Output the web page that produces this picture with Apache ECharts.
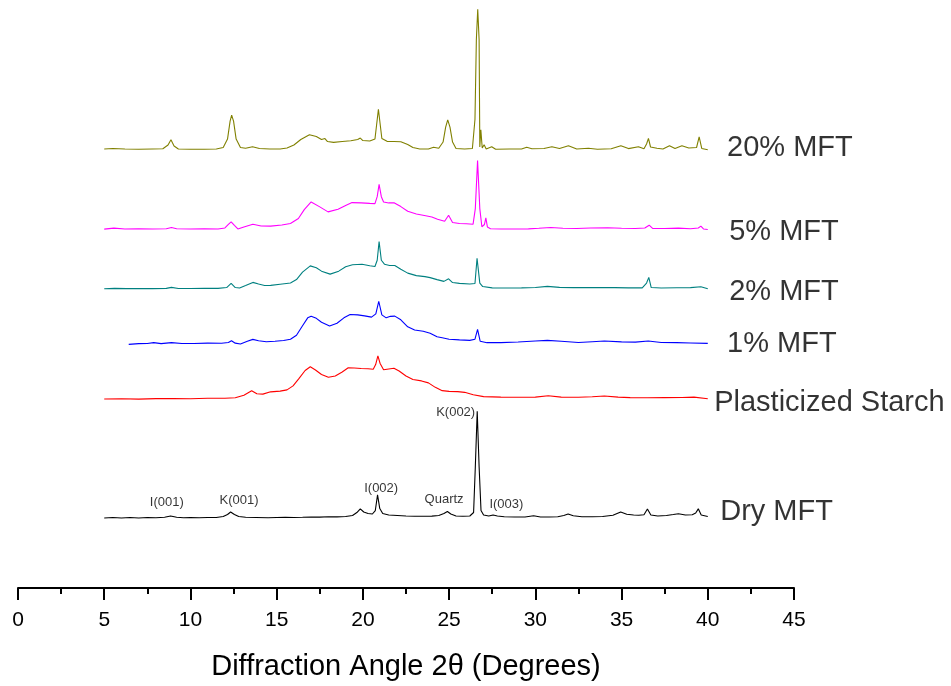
<!DOCTYPE html>
<html>
<head>
<meta charset="utf-8">
<script src="https://cdn.jsdelivr.net/npm/echarts@6/dist/echarts.min.js"></script>
<style>
  html, body { margin: 0; padding: 0; background: #ffffff; }
  #chart { width: 951px; height: 686px; }
</style>
</head>
<body>
<div id="chart"></div>
<script>
// XRD patterns, stacked with a vertical offset per sample.
// Each pattern: 2θ angles (degrees) and offset intensity (a.u.).

const dryAngle = [5.0,5.5,6.0,6.5,7.0,7.5,8.0,8.5,8.85,9.2,9.6,10.0,10.5,11.0,11.5,11.9,12.15,12.33,12.55,12.8,13.2,13.8,14.5,15.0,15.5,16.0,16.5,17.0,17.5,18.0,18.5,19.0,19.4,19.65,19.85,20.05,20.3,20.55,20.72,20.85,20.98,21.15,21.5,22.0,22.5,23.0,23.5,24.0,24.4,24.7,24.9,25.1,25.4,25.8,26.2,26.42,26.52,26.63,26.74,26.85,27.0,27.3,27.55,27.8,28.2,28.8,29.4,29.9,30.3,30.8,31.3,31.65,31.9,32.2,32.7,33.3,33.9,34.5,34.95,35.3,35.7,36.0,36.3,36.5,36.7,37.1,37.6,38.0,38.3,38.7,39.1,39.3,39.45,39.62,40.0];
const dryIntensity = [70.5,71,70.5,71,70.5,71,70.7,71.2,72.5,71.2,70.8,71,70.7,71,71,72,74,76.5,74,72,71.2,71,70.8,71,71.2,71,71.2,71.5,71.4,71.7,71.6,72,73,76,79.7,76.5,75,74.5,78,93.7,80,75,73.5,73,72.5,72.2,72.2,72.4,73,75,77,74.5,72.5,72.2,72.5,76,122,178,122,78,73.5,72.5,73.5,72.5,71.7,71.5,71.5,72.7,71.5,71.5,71.7,73,74.5,72.7,71.7,71.7,72,73.2,76.5,74.2,73.5,73.2,73.7,79.5,73.5,72.5,73,74,74.8,73.5,73.8,75.5,79.7,73.5,72];

const starchAngle = [5.0,6.0,7.0,8.0,9.0,10.0,11.0,12.0,12.6,13.1,13.55,13.85,14.2,14.65,15.2,15.6,15.95,16.3,16.65,16.95,17.25,17.6,18.0,18.4,18.8,19.15,19.5,19.9,20.3,20.6,20.74,20.87,21.0,21.2,21.5,21.8,22.1,22.5,22.9,23.4,23.8,24.2,24.6,25.0,25.5,25.9,26.4,27.0,28.0,29.0,30.0,30.75,31.5,32.5,33.3,34.0,34.8,35.5,36.5,37.5,38.5,39.2,40.0];
const starchIntensity = [190.3,190.5,190.2,190.7,190.8,190.5,191,191,191.5,194,198.5,195.5,195.2,197.5,198.2,199.5,203.5,211,219,222.7,219.5,215,212.2,213.5,217.5,221.7,221.5,221,220.8,220.2,225,233.7,226,219.7,220.5,221.3,218.5,213.5,210,208.5,206.5,202,198.7,198,197.7,197,194.5,192.7,192.2,192,192.2,193.5,192.2,192,192.5,193.3,192.2,191.7,191.5,191.7,191.8,192.2,190.5];

const mft1Angle = [6.42,7.0,7.5,7.87,8.3,8.9,9.5,10.2,11.0,11.8,12.2,12.38,12.6,12.9,13.3,13.62,13.95,14.4,14.9,15.4,15.8,16.15,16.5,16.8,17.0,17.3,17.6,18.07,18.5,18.9,19.26,19.7,20.1,20.5,20.75,20.92,21.1,21.35,21.6,21.85,22.2,22.6,23.0,23.5,23.9,24.3,24.6,25.0,25.6,26.2,26.5,26.65,26.8,27.2,28.0,29.0,30.0,30.7,31.5,32.5,33.3,34.0,35.0,35.8,36.55,37.3,38.2,39.0,40.0];
const mft1Intensity = [245.3,246,246.2,247,246,247,246.2,246.2,246.5,246.4,247.2,249,246.5,245.7,248.5,250.3,249,248,248.5,249.2,250.5,254.5,264,272,273.7,271.5,267.5,263.7,266.5,272,275.3,275,274,272.7,276,288.7,275,272,273.5,273.7,270,263,259.7,258.5,256.5,253,252,250.5,249.8,249.3,250.5,260.3,248.5,247,247,247.7,248.7,249.3,248.5,247.2,248,248.7,247.8,247.5,248.7,247.2,247,246.7,246.3];

const mft2Angle = [5.0,5.6,6.3,7.0,7.8,8.6,8.9,9.3,10.0,10.8,11.6,12.1,12.36,12.6,12.85,13.2,13.62,13.95,14.3,14.65,15.2,15.8,16.15,16.5,16.95,17.3,17.6,18.1,18.6,19.0,19.4,19.95,20.4,20.7,20.83,20.94,21.07,21.25,21.55,21.85,22.2,22.6,23.1,23.6,23.9,24.3,24.7,24.97,25.2,25.6,26.2,26.5,26.62,26.78,26.95,27.5,28.3,29.2,30.0,30.7,31.4,32.2,33.0,33.8,34.6,35.4,36.2,36.45,36.58,36.72,37.3,38.2,39.0,39.6,40.0];
const mft2Intensity = [301.3,301.7,301.4,301.6,301.4,301.7,302.7,301.6,301.5,301.7,301.7,302.5,306.7,302.5,302,304.5,307.7,306,304.5,304.7,305.8,307,310.5,318,324.3,322.5,319,316,319,323.5,325.5,326,324.5,323.7,330,348.7,330,326,324.7,324.7,321,317,314.5,313.5,312.5,310.5,308.7,311.3,307.5,306.7,306,306.5,332,307,303.5,302.2,302,302.2,302.5,303.7,302.7,302.4,302.5,302.4,302.4,302.2,302.2,307,312.7,302.5,302,302.3,302.4,303.3,301.3];

const mft5Angle = [5.0,5.56,6.2,7.0,7.8,8.6,8.9,9.2,10.0,10.8,11.6,12.0,12.2,12.36,12.55,12.75,13.1,13.62,14.1,14.65,15.3,15.8,16.26,16.6,17.0,17.5,17.98,18.56,19.0,19.37,19.9,20.4,20.7,20.83,20.94,21.07,21.2,21.5,21.83,22.2,22.6,23.1,23.64,24.0,24.33,24.74,24.97,25.2,25.6,26.0,26.39,26.52,26.65,26.78,26.9,27.05,27.13,27.22,27.4,28.0,28.8,29.6,30.2,30.9,31.6,32.4,33.2,34.2,35.0,35.8,36.35,36.6,36.8,37.5,38.3,39.0,39.45,39.6,39.75,40.0];
const mft5Intensity = [361.3,362.3,361.5,361.7,361.4,361.7,363,361.7,361.4,361.6,361.5,362.5,366,368.7,365,361.5,363.5,366.3,364.5,364.3,365.5,367,372,381,388.7,383.7,378.7,381.3,385,388,387.7,387.2,387,394,406.3,394,388.7,387.7,387.7,384,379.3,376.5,374.7,373.5,371.3,369.3,375.3,368,367,366.7,366.3,382,430.3,382,363.7,366,372.7,363.5,361.7,361.4,361.5,361.6,362.2,363,362.2,362,362.4,362.7,362.2,362,362.5,365.3,362,362,362.3,361.7,362.5,364.3,361.5,361];

const mft20Angle = [5.0,5.5,6.2,7.0,7.8,8.4,8.7,8.87,9.05,9.3,10.0,10.8,11.5,11.9,12.15,12.3,12.39,12.5,12.65,12.9,13.2,13.6,14.0,14.6,15.2,15.6,16.0,16.4,16.9,17.3,17.6,17.8,17.95,18.3,18.8,19.3,19.7,19.85,20.0,20.4,20.7,20.9,21.1,21.4,21.8,22.2,22.6,22.9,23.3,23.8,24.1,24.4,24.65,24.8,24.92,25.05,25.2,25.4,25.9,26.35,26.5,26.58,26.66,26.74,26.78,26.84,26.92,27.03,27.15,27.47,27.7,28.5,29.2,29.5,29.8,30.5,30.96,31.4,31.92,32.4,33.08,33.6,34.4,34.96,35.4,35.98,36.3,36.45,36.56,36.68,37.05,37.4,37.78,38.1,38.5,38.9,39.35,39.5,39.65,40.0];
const mft20Intensity = [442,442.5,442,441.7,442,442.2,446,451.3,445,442,441.7,441.8,442,443.5,452,470,476,470,452,443.5,442.7,444.3,442.5,442,442,443,446,451.5,456.3,454.5,451.5,452.5,449.5,448.7,449.5,450.3,451.5,453,450.5,450,452,482,452.5,449.7,449.5,449.3,446.5,443.5,442,442,443.7,442.7,449,464,471.3,464,449,442.5,442,442.5,472,552,582.7,552,444,461.3,443,446.3,442,444.3,441.7,442,442,443.7,442.3,442.5,444.3,442.5,445.3,442,442.7,441.8,442.2,445.3,442.4,444.3,442.2,447,452.7,444,442.7,442,445.3,442.5,445.3,443,443.5,454.3,442.5,441.3];

// Sample names and colours, bottom to top
const sampleNames = ['Dry MFT', 'Plasticized Starch', '1% MFT', '2% MFT', '5% MFT', '20% MFT'];
const sampleColors = ['#000000', '#ff0000', '#0000ff', '#008080', '#ff00ff', '#808000'];
const sampleAngles = [dryAngle, starchAngle, mft1Angle, mft2Angle, mft5Angle, mft20Angle];
const sampleIntensities = [dryIntensity, starchIntensity, mft1Intensity, mft2Intensity, mft5Intensity, mft20Intensity];

// Right-hand sample labels: [2θ, intensity] where each name starts
const nameLabelAngle = [40.72, 40.37, 41.12, 41.24, 41.24, 41.12];
const nameLabelLevel = [77, 186, 246, 298, 358, 442.5];

// Reflection labels on the Dry MFT pattern
const peakNames = ['I(001)', 'K(001)', 'I(002)', 'Quartz', 'K(002)', 'I(003)'];
const peakLabelAngle = [8.63, 12.82, 21.06, 24.71, 25.38, 28.32];
const peakLabelLevel = [86, 88, 100, 89.5, 176.5, 84];

const xTicks = [0, 5, 10, 15, 20, 25, 30, 35, 40, 45];

const FONT = "'Liberation Sans', Arial, Helvetica, sans-serif";

const zip = (a, b) => a.map((v, i) => [v, b[i]]);

const series = sampleNames.map((name, i) => ({
  name: name,
  type: 'line',
  data: zip(sampleAngles[i], sampleIntensities[i]),
  showSymbol: false,
  symbol: 'none',
  lineStyle: { color: sampleColors[i], width: 1.1 },
  silent: true,
  z: 2
}));

series.push({
  name: 'sample labels',
  type: 'scatter',
  symbolSize: 0,
  silent: true,
  data: sampleNames.map((n, i) => ({ value: [nameLabelAngle[i], nameLabelLevel[i]], name: n })),
  label: {
    show: true,
    position: 'right',
    distance: 0,
    formatter: p => p.name,
    color: '#000000',
    fontFamily: FONT,
    fontSize: 29
  },
  z: 3
});

series.push({
  name: 'peak labels',
  type: 'scatter',
  symbolSize: 0,
  silent: true,
  data: peakNames.map((n, i) => ({ value: [peakLabelAngle[i], peakLabelLevel[i]], name: n })),
  label: {
    show: true,
    position: 'inside',
    formatter: p => p.name,
    color: '#000000',
    fontFamily: FONT,
    fontSize: 13
  },
  z: 3
});

const chart = echarts.init(document.getElementById('chart'), null, { renderer: 'canvas' });
chart.setOption({
  animation: false,
  backgroundColor: '#ffffff',
  grid: { left: 18, right: 157, top: 0, bottom: 94, containLabel: false },
  xAxis: {
    type: 'value',
    min: xTicks[0],
    max: xTicks[xTicks.length - 1],
    interval: 5,
    name: 'Diffraction Angle 2θ (Degrees)',
    nameLocation: 'middle',
    nameGap: 64,
    nameTextStyle: { fontFamily: FONT, fontSize: 29, color: '#000000' },
    axisLine: { show: true, onZero: false, lineStyle: { color: '#000000', width: 2 } },
    axisTick: { show: true, inside: false, length: 12, lineStyle: { color: '#000000', width: 2 } },
    minorTick: { show: true, splitNumber: 2, length: 6, lineStyle: { color: '#000000', width: 2 } },
    axisLabel: { margin: 22, fontFamily: FONT, fontSize: 21, color: '#000000' },
    splitLine: { show: false }
  },
  yAxis: {
    type: 'value',
    min: 0,
    max: 592,
    show: false,
    splitLine: { show: false }
  },
  series: series
});
</script>
</body>
</html>
